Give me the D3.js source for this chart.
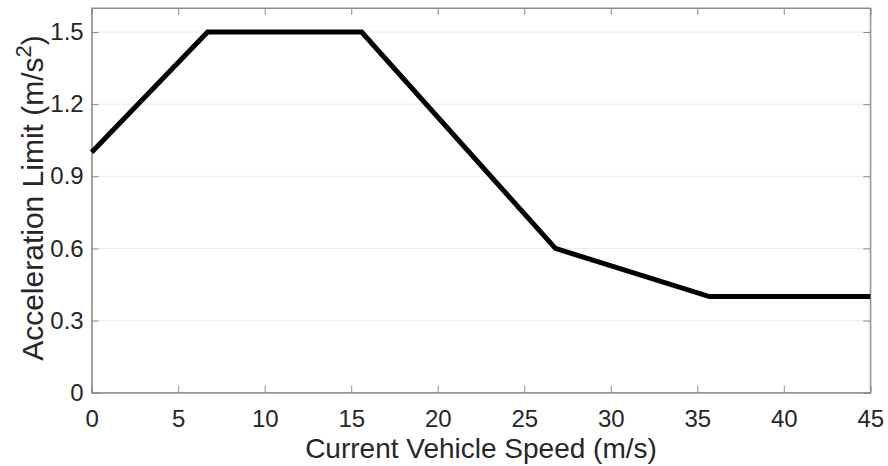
<!DOCTYPE html>
<html>
<head>
<meta charset="utf-8">
<script src="https://cdn.jsdelivr.net/npm/d3@7"></script>
<style>
  html, body { margin: 0; padding: 0; background: #fff; }
  svg { display: block; font-family: "Liberation Sans", Arial, sans-serif; }
</style>
</head>
<body>
<svg id="chart" width="888" height="466"></svg>
<script>
// Acceleration limit as a function of vehicle speed (piecewise linear)
const speeds = [0, 6.7, 15.6, 26.8, 35.7, 45];
const accelLimits = [1.0, 1.5, 1.5, 0.6, 0.4, 0.4];
const xTicks = [0, 5, 10, 15, 20, 25, 30, 35, 40, 45];
const yTicks = [0, 0.3, 0.6, 0.9, 1.2, 1.5];
const xDomain = [0, 45];
const yDomain = [0, 1.6];

const margin = { left: 91.7, top: 8, right: 888 - 870.3, bottom: 466 - 392.7 };
const W = 888, H = 466;
const svg = d3.select("#chart");

const x = d3.scaleLinear().domain(xDomain).range([margin.left, W - margin.right]);
const y = d3.scaleLinear().domain(yDomain).range([H - margin.bottom, margin.top]);

const axisColor = "#8c8c8c";
const textColor = "#262626";
const tickLen = 7;

// horizontal grid
svg.append("g").selectAll("line").data(yTicks.filter(d => d > 0)).join("line")
  .attr("x1", x.range()[0]).attr("x2", x.range()[1])
  .attr("y1", d => y(d)).attr("y2", d => y(d))
  .attr("stroke", "#ebebeb").attr("stroke-width", 1);

// box
svg.append("rect")
  .attr("x", x.range()[0]).attr("y", y.range()[1])
  .attr("width", x.range()[1] - x.range()[0])
  .attr("height", y.range()[0] - y.range()[1])
  .attr("fill", "none").attr("stroke", axisColor).attr("stroke-width", 1);

// axes with inward ticks
const fmtY = d => d === 0 ? "0" : d3.format(".1f")(d);
const xAxis = d3.axisBottom(x).tickValues(xTicks).tickSize(-tickLen).tickPadding(17).tickFormat(d3.format("d"));
const yAxis = d3.axisLeft(y).tickValues(yTicks).tickSize(-tickLen).tickPadding(8).tickFormat(fmtY);
const xAxisTop = d3.axisTop(x).tickValues(xTicks).tickSize(-tickLen).tickFormat("");
const yAxisRight = d3.axisRight(y).tickValues(yTicks).tickSize(-tickLen).tickFormat("");

function style(g) {
  g.select(".domain").attr("stroke", axisColor);
  g.selectAll(".tick line").attr("stroke", axisColor);
  g.selectAll(".tick text").attr("fill", textColor).style("font-size", "24px")
    .style("font-family", "Liberation Sans, Arial, sans-serif");
}
svg.append("g").attr("transform", `translate(0,${y.range()[0]})`).call(xAxis).call(style);
svg.append("g").attr("transform", `translate(${x.range()[0]},0)`).call(yAxis).call(style);
svg.append("g").attr("transform", `translate(0,${y.range()[1]})`).call(xAxisTop).call(style);
svg.append("g").attr("transform", `translate(${x.range()[1]},0)`).call(yAxisRight).call(style);

// series
const pts = speeds.map((s, i) => [s, accelLimits[i]]);
svg.append("path").datum(pts)
  .attr("d", d3.line().x(d => x(d[0])).y(d => y(d[1])))
  .attr("fill", "none").attr("stroke", "#000").attr("stroke-width", 5)
  .attr("stroke-linejoin", "miter");

// axis labels
svg.append("text")
  .attr("x", (x.range()[0] + x.range()[1]) / 2).attr("y", 458)
  .attr("text-anchor", "middle").attr("fill", textColor)
  .style("font-size", "28px")
  .text("Current Vehicle Speed (m/s)");

const yl = svg.append("text")
  .attr("transform", `translate(43,198) rotate(-90)`)
  .attr("text-anchor", "middle").attr("fill", textColor)
  .style("font-size", "30px");
yl.append("tspan").text("Acceleration Limit (m/s");
yl.append("tspan").attr("dy", -12).style("font-size", "22px").text("2");
yl.append("tspan").attr("dy", 12).text(")");
</script>
</body>
</html>
